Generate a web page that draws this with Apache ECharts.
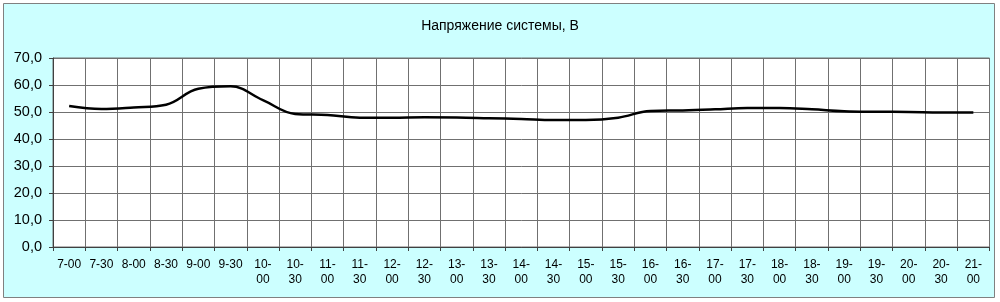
<!DOCTYPE html>
<html><head><meta charset="utf-8">
<script src="https://cdn.jsdelivr.net/npm/echarts@6/dist/echarts.min.js"></script>
<style>html,body{margin:0;padding:0;background:#fff}#c{width:1000px;height:302px}</style>
</head><body><div id="c"></div>
<script>
const titleText = 'Напряжение системы, В';
const categories = ['7-00','7-30','8-00','8-30','9-00','9-30','10-00','10-30','11-00','11-30','12-00','12-30','13-00','13-30','14-00','14-30','15-00','15-30','16-00','16-30','17-00','17-30','18-00','18-30','19-00','19-30','20-00','20-30','21-00'];
const voltage = [52.2,51.1,51.7,52.7,58.6,59.5,54.4,49.3,48.9,47.9,47.9,48.1,48.0,47.7,47.4,47.0,47.0,47.9,50.4,50.6,51.0,51.5,51.5,51.0,50.3,50.1,50.0,49.8,49.8];
const yTicks = {min:0, max:70, interval:10};

const chart = echarts.init(document.getElementById('c'), null, {renderer:'canvas'});
chart.setOption({
  backgroundColor:'#ffffff',
  animation:false,
  graphic:[{type:'rect', z:-10, silent:true, shape:{x:3.5,y:3.5,width:991,height:294},
    style:{fill:'#CCFFFF', stroke:'#808080', lineWidth:1}}],
  title:{text:titleText, left:'center', top:14,
    textStyle:{fontFamily:'Liberation Sans, Arial', fontSize:14, fontWeight:'normal', color:'#000'}},
  grid:{left:53, right:10.5, top:58, bottom:55, show:true, backgroundColor:'#ffffff', borderColor:'#707070', borderWidth:1},
  xAxis:{type:'category', data:categories, boundaryGap:true,
    axisLine:{lineStyle:{color:'#404040', width:1}},
    axisTick:{show:true, length:4, lineStyle:{color:'#404040'}},
    splitLine:{show:true, lineStyle:{color:'#707070', width:1}},
    axisLabel:{interval:0, margin:10, fontFamily:'Liberation Sans, Arial', fontSize:12, color:'#000', lineHeight:15,
      formatter:v => v.length > 4 ? v.replace('-', '-\n') : v}},
  yAxis:{type:'value', min:yTicks.min, max:yTicks.max, interval:yTicks.interval,
    axisLine:{show:true, lineStyle:{color:'#404040', width:1}},
    axisTick:{show:true, length:4, lineStyle:{color:'#404040'}},
    splitLine:{show:true, lineStyle:{color:'#707070', width:1}},
    axisLabel:{margin:11, fontFamily:'Liberation Sans, Arial', fontSize:14.5, color:'#000',
      formatter:v => v.toFixed(1).replace('.', ',')}},
  series:[{type:'line', data:voltage, smooth:0.4, showSymbol:false,
    lineStyle:{color:'#000', width:2.5}}]
});
</script></body></html>
